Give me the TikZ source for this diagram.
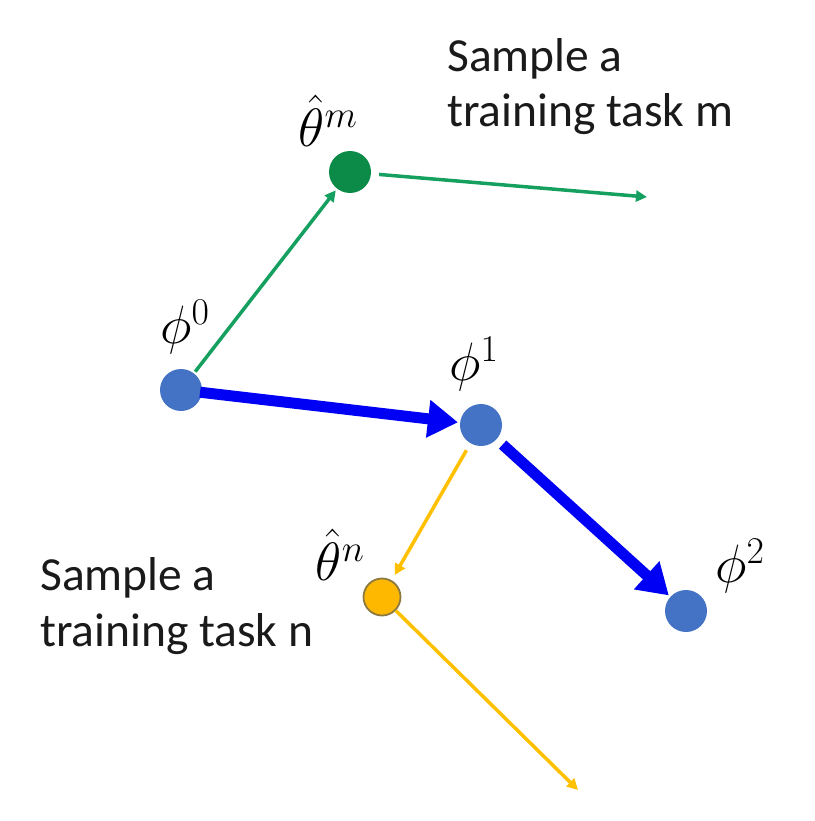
\documentclass[tikz,border=0pt]{standalone}
\usepackage{fix-cm}
\usepackage{fontspec}
\newfontfamily\labelfont{Carlito}
\usetikzlibrary{arrows.meta}
\definecolor{nodeblue}{HTML}{4472C4}
\definecolor{arrowblue}{HTML}{0000F5}
\definecolor{nodegreen}{HTML}{0B8A48}
\definecolor{arrowgreen}{HTML}{16A060}
\definecolor{nodeorange}{HTML}{FFB800}
\definecolor{orangeedge}{HTML}{8C7A40}
\definecolor{arroworange}{HTML}{FFC000}
\definecolor{textgray}{HTML}{1A1A1A}
\tikzset{
  pt/.style={circle, inner sep=0pt, minimum size=42pt},
  bluept/.style={pt, fill=nodeblue},
  greenpt/.style={pt, fill=nodegreen},
  orangept/.style={pt, minimum size=37pt, fill=nodeorange, draw=orangeedge, line width=1.8pt},
  thinarrow/.style={line width=3.5pt, -{Triangle[length=11pt,width=11pt]}},
  thickarrow/.style={line width=11pt, -{Triangle[length=30pt,width=36pt]}},
  mathlabel/.style={inner sep=0pt, font=\fontsize{54}{58}\selectfont},
  tasktext/.style={inner sep=0pt, anchor=base west, text=textgray, font=\labelfont\fontsize{47.5}{55}\selectfont}
}
\begin{document}
\begin{tikzpicture}[x=1pt,y=-1pt]
\useasboundingbox (0,0) rectangle (814,821);
\fill[white] (0,0) rectangle (814,821);
% nodes
\node[bluept] (phi0) at (181,390) {};
\node[bluept] (phi1) at (481,425) {};
\node[bluept] (phi2) at (686,611) {};
\node[greenpt] (thm) at (350,172) {};
\node[orangept] (thn) at (382,597) {};
\coordinate (endm) at (647,197);
\coordinate (endn) at (578,790);
% labels
\node[mathlabel] (lphi0) at (185,327) {$\phi^0$};
\node[mathlabel] (lphi1) at (474,364) {$\phi^1$};
\node[mathlabel] (lphi2) at (740,566) {$\phi^2$};
\node[mathlabel] (lthm) at (328,121) {$\hat{\theta}^m$};
\node[mathlabel] (lthn) at (340,555) {$\hat{\theta}^n$};
\node[tasktext] (tm1) at (447,72) {Sample a};
\node[tasktext] (tm2) at (447,127) {training task m};
\node[tasktext] (tn1) at (40,590) {Sample a};
\node[tasktext] (tn2) at (40,646) {training task n};
% connectors
\draw[thinarrow, arrowgreen, shorten <=2pt, shorten >=2pt] (phi0) -- (thm);
\draw[thinarrow, arrowgreen, shorten <=8pt] (thm) -- (endm);
\draw[thickarrow, arrowblue, shorten <=-2pt, shorten >=2pt] (phi0) -- (phi1);
\draw[thickarrow, arrowblue, shorten <=8pt, shorten >=2pt] (phi1) -- (phi2);
\draw[thinarrow, arroworange, shorten <=8pt, shorten >=6pt] (phi1) -- (thn);
\draw[line width=3.5pt, arroworange, -{Triangle[length=11pt,width=11pt]}] (thn) -- (endn);
\end{tikzpicture}
\end{document}
